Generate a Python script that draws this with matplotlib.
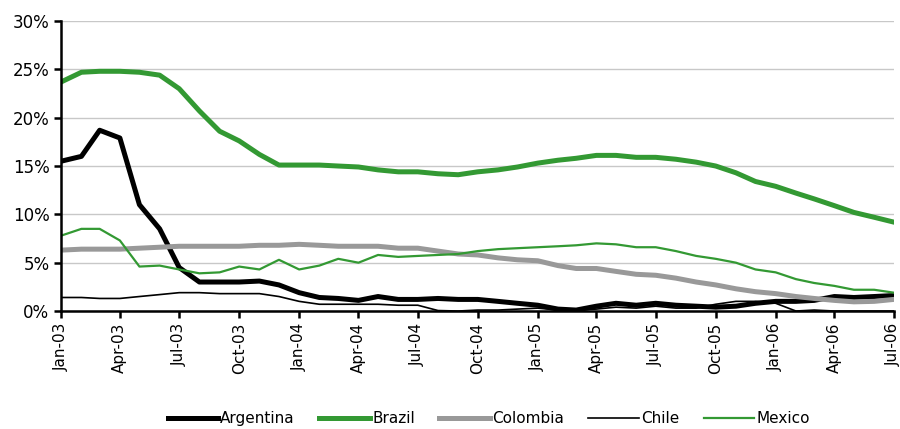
import pandas as pd
import matplotlib.pyplot as plt
import matplotlib.dates as mdates
from matplotlib.ticker import FuncFormatter, MultipleLocator

# Monthly series, Jan-03 to Jul-06, in percent
months = pd.date_range("2003-01-01", "2006-07-01", freq="MS")

argentina = [15.5, 16.0, 18.7, 17.9, 11.0, 8.5, 4.5, 3.0, 3.0, 3.0, 3.1, 2.7,
             1.9, 1.4, 1.3, 1.1, 1.5, 1.2, 1.2, 1.3, 1.2, 1.2, 1.0, 0.8,
             0.6, 0.2, 0.1, 0.5, 0.8, 0.6, 0.8, 0.6, 0.5, 0.4, 0.5, 0.8,
             1.0, 1.0, 1.1, 1.5, 1.4, 1.5, 1.6]
brazil = [23.7, 24.7, 24.8, 24.8, 24.7, 24.4, 23.0, 20.7, 18.6, 17.6, 16.2, 15.1,
          15.1, 15.1, 15.0, 14.9, 14.6, 14.4, 14.4, 14.2, 14.1, 14.4, 14.6, 14.9,
          15.3, 15.6, 15.8, 16.1, 16.1, 15.9, 15.9, 15.7, 15.4, 15.0, 14.3, 13.4,
          12.9, 12.2, 11.6, 10.9, 10.2, 9.7, 9.2]
colombia = [6.3, 6.4, 6.4, 6.4, 6.5, 6.6, 6.7, 6.7, 6.7, 6.7, 6.8, 6.8,
            6.9, 6.8, 6.7, 6.7, 6.7, 6.5, 6.5, 6.2, 5.9, 5.8, 5.5, 5.3,
            5.2, 4.7, 4.4, 4.4, 4.1, 3.8, 3.7, 3.4, 3.0, 2.7, 2.3, 2.0,
            1.8, 1.5, 1.3, 1.1, 0.95, 1.0, 1.2]
chile = [1.4, 1.4, 1.3, 1.3, 1.5, 1.7, 1.9, 1.9, 1.8, 1.8, 1.8, 1.5,
         1.0, 0.7, 0.7, 0.7, 0.7, 0.6, 0.6, 0.05, 0.0, 0.1, 0.1, 0.2,
         0.3, 0.1, 0.1, 0.2, 0.4, 0.3, 0.5, 0.3, 0.3, 0.7, 1.0, 1.0,
         0.8, 0.0, 0.1, 0.0, 0.0, 0.0, 0.0]
mexico = [7.8, 8.5, 8.5, 7.3, 4.6, 4.7, 4.3, 3.9, 4.0, 4.6, 4.3, 5.3,
          4.3, 4.7, 5.4, 5.0, 5.8, 5.6, 5.7, 5.8, 5.9, 6.2, 6.4, 6.5,
          6.6, 6.7, 6.8, 7.0, 6.9, 6.6, 6.6, 6.2, 5.7, 5.4, 5.0, 4.3,
          4.0, 3.3, 2.9, 2.6, 2.2, 2.2, 1.9]

green = "#339933"
grey = "#999999"

fig = plt.figure(figsize=(9, 4.29), dpi=100)
ax = fig.add_axes([0.068, 0.275, 0.925, 0.676])

ax.plot(months, argentina, color="black", lw=3.6, label="Argentina")
ax.plot(months, brazil, color=green, lw=3.6, label="Brazil")
ax.plot(months, colombia, color=grey, lw=3.6, label="Colombia")
ax.plot(months, chile, color="black", lw=1.2, label="Chile")
ax.plot(months, mexico, color=green, lw=1.6, label="Mexico")

ax.set_xlim(months[0], months[-1])
ax.set_ylim(0, 30)
ax.yaxis.set_major_locator(MultipleLocator(5))
ax.yaxis.set_major_formatter(FuncFormatter(lambda v, p: f"{v:.0f}%"))
ax.xaxis.set_major_locator(mdates.MonthLocator(bymonth=[1, 4, 7, 10]))
ax.xaxis.set_major_formatter(mdates.DateFormatter("%b-%y"))
plt.setp(ax.get_xticklabels(), rotation=90)

ax.grid(axis="y", color="#c8c8c8", lw=1)
ax.set_axisbelow(True)
for side in ["top", "right"]:
    ax.spines[side].set_visible(False)
for side in ["left", "bottom"]:
    ax.spines[side].set_linewidth(1.8)
ax.tick_params(axis="both", direction="out", width=1.8, length=5, labelsize=11, colors="black")
ax.tick_params(axis="y", labelsize=12)

fig.legend(loc="center", bbox_to_anchor=(0.543, 0.024), ncol=5, frameon=False,
           fontsize=11, handlelength=3.3, handletextpad=0.15, columnspacing=1.6,
           borderpad=0)

fig.savefig("out.png", dpi=100)
